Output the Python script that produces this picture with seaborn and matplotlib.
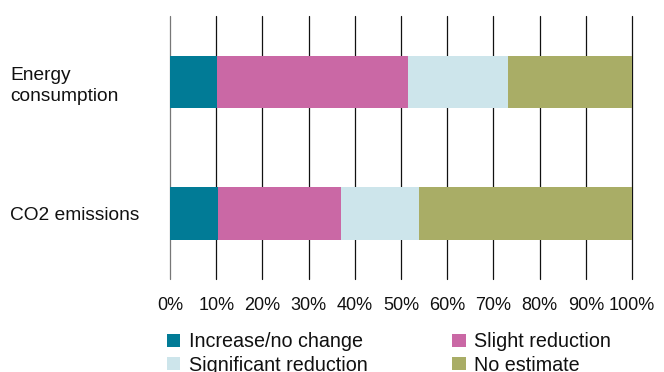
import numpy as np
import pandas as pd
import matplotlib
matplotlib.use("Agg")
import matplotlib.pyplot as plt
import seaborn as sns
from matplotlib.patches import Patch

# Share of respondents by expected change (%)
categories = ["Energy\nconsumption", "CO2 emissions"]
series_names = ["Increase/no change", "Slight reduction", "Significant reduction", "No estimate"]
increase_no_change = [10.2, 10.3]
slight_reduction = [41.2, 26.6]
significant_reduction = [21.8, 16.9]
no_estimate = [26.8, 46.2]
tick_labels = ["0%", "10%", "20%", "30%", "40%", "50%", "60%", "70%", "80%", "90%", "100%"]

colors = ["#017b96", "#ca68a5", "#cde5eb", "#a9ad66"]

sns.set_theme(style="white")
plt.rcParams["font.family"] = ["Liberation Sans", "DejaVu Sans"]

values = np.array([increase_no_change, slight_reduction, significant_reduction, no_estimate])
cum = np.cumsum(values, axis=0)

fig = plt.figure(figsize=(6.64, 3.72), dpi=100)
ax = fig.add_axes([0.256, 0.249, 0.696, 0.707])

# Stacked bars: draw cumulative totals from the outermost segment inward
for i in reversed(range(len(series_names))):
    df = pd.DataFrame({"category": categories, "value": cum[i]})
    sns.barplot(data=df, x="value", y="category", orient="h", color=colors[i],
                saturation=1, width=0.4, ax=ax, linewidth=0, zorder=3)

ax.set_xlim(0, 100)
ax.set_ylim(1.5, -0.5)
ax.set_xticks(np.arange(0, 101, 10))
ax.set_xticklabels(tick_labels)
ax.set_xlabel("")
ax.set_ylabel("")
for s in ax.spines.values():
    s.set_visible(False)
ax.grid(axis="x", color="#111111", linewidth=0.9, zorder=0)
ax.grid(axis="y", visible=False)
for gl in ax.get_xgridlines():
    gl.set_clip_on(False)
ax.get_xgridlines()[0].set_color("#777777")
ax.tick_params(axis="x", length=0, pad=13, labelsize=13, labelcolor="#111111")
ax.tick_params(axis="y", length=0, pad=115, labelsize=13.8, labelcolor="#111111")
for lab in ax.get_yticklabels():
    lab.set_horizontalalignment("left")
    lab.set_multialignment("left")
    lab.set_linespacing(1.3)

handles = [Patch(facecolor=c, edgecolor="none") for c in colors]
order = [0, 2, 1, 3]
leg = fig.legend([handles[k] for k in order], [series_names[k] for k in order],
                 ncol=2, loc="upper left", bbox_to_anchor=(0.2515, 0.107),
                 frameon=False, fontsize=14.2, handlelength=0.68, handleheight=0.68,
                 handletextpad=0.42, columnspacing=4.3, labelspacing=0.22,
                 borderpad=0, borderaxespad=0)
for t in leg.get_texts():
    t.set_color("#111111")

fig.savefig("out.png", dpi=100)
